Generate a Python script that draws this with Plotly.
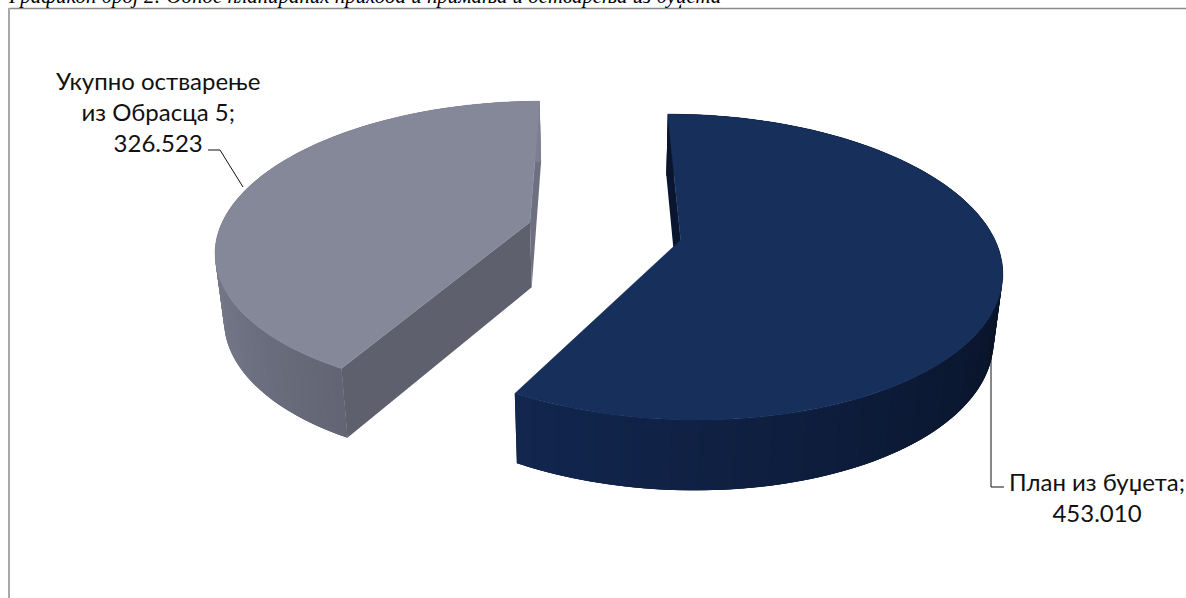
import math
import plotly.graph_objects as go

# --- chart data ---
categories = ["План из буџета", "Укупно остварење<br>из Обрасца 5"]
values = [453010, 326523]
top_colors = ["#172F5B", "#858899"]
near_face_colors = [None, "#5E606E"]
far_face_colors = ["#0A1630", "#6E7080"]
wall_stops = [
    [(0.0, "#0A152C"), (0.45, "#081224"), (0.7, "#0C1A36"), (1.0, "#12264E")],
    [(0.0, "#636574"), (0.18, "#6F7282"), (0.4, "#7C7F8F"), (1.0, "#7C7F8F")],
]
title_text = "Графикон број 2: Однос планираних прихода и примања и остварења из буџета"

# --- view constants of the pseudo-3D pie ---
W, H = 1186, 598
X0, Y0 = 604.5, 231.0
A, B, K = 311.0, 145.0, 0.175
EXPLODE = 0.25
START = -0.3
SHRINK = 0.977


def project(xw, yw, bottom=False):
    w = 1.0 / (1.0 + K * yw)
    x = A * xw * w
    y = Y0 - B * yw * w
    if bottom:
        x *= SHRINK
        y += 65.5 - 4.5 * yw
    return X0 + x, y


def hex2rgb(c):
    return [int(c[i:i + 2], 16) for i in (1, 3, 5)]


def stop_color(stops, t):
    for (t0, c0), (t1, c1) in zip(stops, stops[1:]):
        if t <= t1:
            f = (t - t0) / (t1 - t0) if t1 > t0 else 0
            a, b = hex2rgb(c0), hex2rgb(c1)
            return "rgb(%d,%d,%d)" % tuple(round(p + (q - p) * f) for p, q in zip(a, b))
    return stops[-1][1]


fig = go.Figure()


def poly(pts, color, lw=0.0):
    xs = [p[0] for p in pts] + [pts[0][0]]
    ys = [p[1] for p in pts] + [pts[0][1]]
    fig.add_trace(go.Scatter(x=xs, y=ys, mode="lines", fill="toself", fillcolor=color,
                             line=dict(color=color, width=lw), hoverinfo="skip", showlegend=False))


total = sum(values)
angle = START
slices = []
for i, v in enumerate(values):
    sweep = 360.0 * v / total
    t0, t1 = angle, angle + sweep
    mid = math.radians((t0 + t1) / 2)
    slices.append(dict(i=i, t0=t0, t1=t1, cx=EXPLODE * math.sin(mid), cy=EXPLODE * math.cos(mid)))
    angle = t1


def rim(s, th):
    r = math.radians(th)
    return s["cx"] + math.sin(r), s["cy"] + math.cos(r)


def face(centre, edge, color):
    poly([project(*centre), project(*edge), project(*edge, True), project(*centre, True)], color)


for s in slices[::-1]:
    i, t0, t1 = s["i"], s["t0"], s["t1"]
    c = (s["cx"], s["cy"])
    # the face seen at the back of the slice
    face(c, rim(s, t0 if i == 0 else t1), far_face_colors[i])
    # outer wall: overlapping strips painted from one end to the other for a smooth gradient
    n = 150
    order = range(n) if i == 0 else range(n - 1, -1, -1)
    for k in order:
        a0 = t0 + (t1 - t0) * max(k - 1, 0) / n
        a1 = t0 + (t1 - t0) * min(k + 2, n) / n
        ths = [a0, (a0 + a1) / 2, a1]
        up = [project(*rim(s, th)) for th in ths]
        lo = [project(*rim(s, th), True) for th in ths[::-1]]
        poly(up + lo, stop_color(wall_stops[i], (k + 0.5) / n))
    # the face seen at the front of the slice
    if near_face_colors[i]:
        face(c, rim(s, t0), near_face_colors[i])
    # top face
    n = 220
    poly([project(*c)] + [project(*rim(s, t0 + (t1 - t0) * k / n)) for k in range(n + 1)],
         top_colors[i], lw=0.5)


def fmt(v):
    return f"{v:,}".replace(",", ".")


# leader lines
leaders = [
    [(991, 347), (991, 487), (1004, 487)],
    [(208, 150), (220, 150), (243, 187)],
]
for pts in leaders:
    fig.add_trace(go.Scatter(x=[p[0] for p in pts], y=[p[1] for p in pts], mode="lines",
                             line=dict(color="#111111", width=1), hoverinfo="skip", showlegend=False))

FONT = "Lato, 'Open Sans', sans-serif"
annots = [
    dict(x=1097, y=497, text=f"{categories[0]};<br>{fmt(values[0])}"),
    dict(x=158, y=111, text=f"{categories[1]};<br>{fmt(values[1])}"),
]
for a_ in annots:
    fig.add_annotation(xref="x", yref="y", x=a_["x"], y=a_["y"], text=a_["text"], showarrow=False,
                       xanchor="center", yanchor="middle", align="center",
                       font=dict(family=FONT, size=24, color="#111111"))

fig.add_annotation(xref="x", yref="y", x=6, y=10, text=f"<i>{title_text}</i>", showarrow=False,
                   xanchor="left", yanchor="bottom", align="left",
                   font=dict(family="'Liberation Serif', serif", size=20.9, color="#000000"))

fig.add_shape(type="line", x0=9, x1=1186, y0=8.5, y1=8.5, xref="x", yref="y",
              line=dict(color="#8A8A8A", width=1.5))
fig.add_shape(type="line", x0=9, x1=9, y0=8, y1=598, xref="x", yref="y",
              line=dict(color="#A8A8A8", width=2))

fig.update_xaxes(range=[0, W], visible=False, fixedrange=True)
fig.update_yaxes(range=[H, 0], visible=False, fixedrange=True)
fig.update_layout(width=W, height=H, margin=dict(l=0, r=0, t=0, b=0),
                  paper_bgcolor="white", plot_bgcolor="white", showlegend=False)

fig.write_html("out.html", config={"displayModeBar": False},
               post_script="document.body.style.margin='0';document.body.style.overflow='hidden';")
